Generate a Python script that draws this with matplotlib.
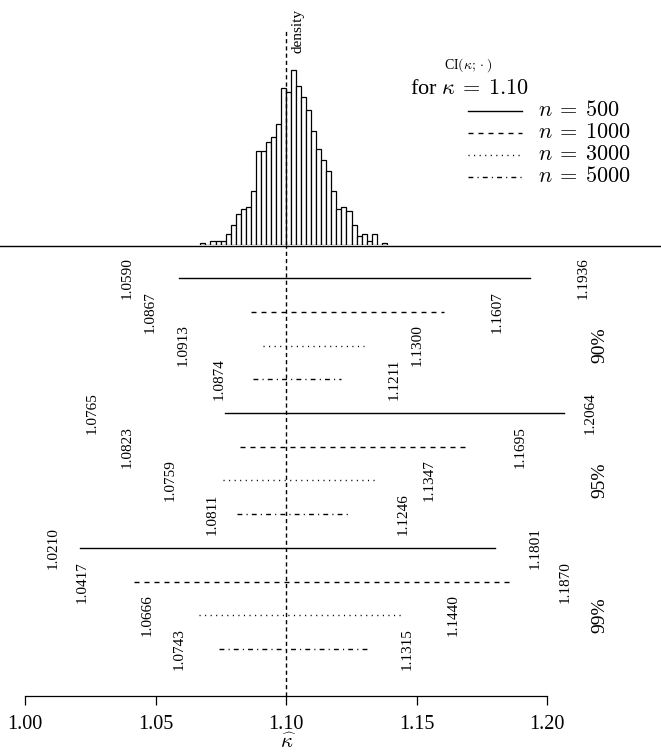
import numpy as np
import matplotlib
matplotlib.use('Agg')
import matplotlib.pyplot as plt
from matplotlib.lines import Line2D

plt.rcParams['font.family'] = ['Liberation Serif', 'DejaVu Serif']
plt.rcParams['mathtext.fontset'] = 'cm'

kappa = 1.10

# bootstrap histogram of kappa-hat (counts out of 1000)
bin_start = 1.0672
bin_width = 0.00193
counts = [1, 0, 2, 2, 2, 5, 9, 14, 16, 17, 24, 42, 42, 46, 48, 54, 70, 68, 78,
          71, 66, 60, 51, 43, 38, 33, 24, 16, 17, 15, 9, 4, 5, 2, 5, 0, 1]

levels = ['90%', '95%', '99%']
sizes = [500, 1000, 3000, 5000]
lower = [[1.0590, 1.0867, 1.0913, 1.0874],
         [1.0765, 1.0823, 1.0759, 1.0811],
         [1.0210, 1.0417, 1.0666, 1.0743]]
upper = [[1.1936, 1.1607, 1.1300, 1.1211],
         [1.2064, 1.1695, 1.1347, 1.1246],
         [1.1801, 1.1870, 1.1440, 1.1315]]
# x where the rotated end values are written
lower_txt_x = [[1.0391, 1.0479, 1.0605, 1.0743],
               [1.0257, 1.0391, 1.0556, 1.0716],
               [1.0107, 1.0218, 1.0467, 1.0590]]
upper_txt_x = [[1.2138, 1.1808, 1.1502, 1.1414],
               [1.2165, 1.1897, 1.1548, 1.1448],
               [1.1954, 1.2069, 1.1640, 1.1464]]

styles = ['-', (0, (3.6, 3.6)), (0, (0.8, 3.2)), (0, (3.5, 3, 0.8, 3))]
vdash = (0, (3, 2.2))

W, H = 661, 755
fig = plt.figure(figsize=(W / 100, H / 100), dpi=100)
xlim = (1 - 25 / 2610, 1 + (W - 25) / 2610)


def fx(px):
    return px / W


def fy(py):
    return 1 - py / H


# histogram on top
ax_h = fig.add_axes([0, (H - 245) / H, 1, 245 / H])
edges = bin_start + bin_width * np.arange(len(counts))
ax_h.bar(edges, counts, width=bin_width, align='edge', facecolor='white',
         edgecolor='black', linewidth=0.9)
ax_h.set_xlim(xlim)
ytop = max(counts) * 245 / 175
ax_h.set_ylim(0, ytop)
ax_h.axvline(kappa, 0, (245 - 30) / 245, color='black', lw=1.0, ls=vdash, zorder=5)
ax_h.text(kappa + 0.0045, ytop * (245 - 31) / 245, 'density',
          rotation=90, ha='center', va='center', fontsize=11)
ax_h.axis('off')
# baseline of the histogram across the whole width
fig.add_artist(Line2D([0, 1], [fy(245.5), fy(245.5)], color='black', lw=1.0,
                      transform=fig.transFigure))

# confidence intervals below
ax = fig.add_axes([0, 59 / H, 1, 451 / H])
ax.set_xlim(xlim)
ax.set_ylim(12.39, -0.98)
ax.axvline(kappa, color='black', lw=1.0, ls=vdash)
for g, lev in enumerate(levels):
    for j in range(len(sizes)):
        row = 4 * g + j
        ax.plot([lower[g][j], upper[g][j]], [row, row], color='black', lw=1.0,
                ls=styles[j])
        ax.text(lower_txt_x[g][j], row, '%.4f' % lower[g][j], rotation=90,
                ha='center', va='center', fontsize=11)
        ax.text(upper_txt_x[g][j], row, '%.4f' % upper[g][j], rotation=90,
                ha='center', va='center', fontsize=11)
    ax.text(1.2203, 4 * g + 2, lev, rotation=90, ha='center', va='center', fontsize=14)

for s in ['top', 'left', 'right']:
    ax.spines[s].set_visible(False)
ax.spines['bottom'].set_bounds(1.0, 1.2)
ax.spines['bottom'].set_linewidth(0.9)
ax.set_xticks([1.00, 1.05, 1.10, 1.15, 1.20])
ax.set_xticklabels(['1.00', '1.05', '1.10', '1.15', '1.20'])
ax.set_yticks([])
ax.tick_params(axis='x', length=6.5, width=0.9, pad=7, labelsize=14.5)
fig.text(288 / W, 1 - 743 / H, r'$\widehat{\kappa}$', ha='center', va='center',
         fontsize=15)

# legend
fig.text(fx(468), fy(65), r'CI$(\kappa;\cdot)$', ha='center', va='center', fontsize=10)
fig.text(fx(469), fy(90), r'for $\kappa\:=\:1.10$', ha='center', va='center', fontsize=16)
for j, n in enumerate(sizes):
    y = 111 + 22 * j
    fig.add_artist(Line2D([fx(468), fx(522)], [fy(y), fy(y)], color='black', lw=1.0,
                          ls=styles[j], transform=fig.transFigure))
    fig.text(fx(538), fy(y), r'$n\:=\:%d$' % n, ha='left', va='center', fontsize=16)

fig.savefig('out.png', dpi=100)
